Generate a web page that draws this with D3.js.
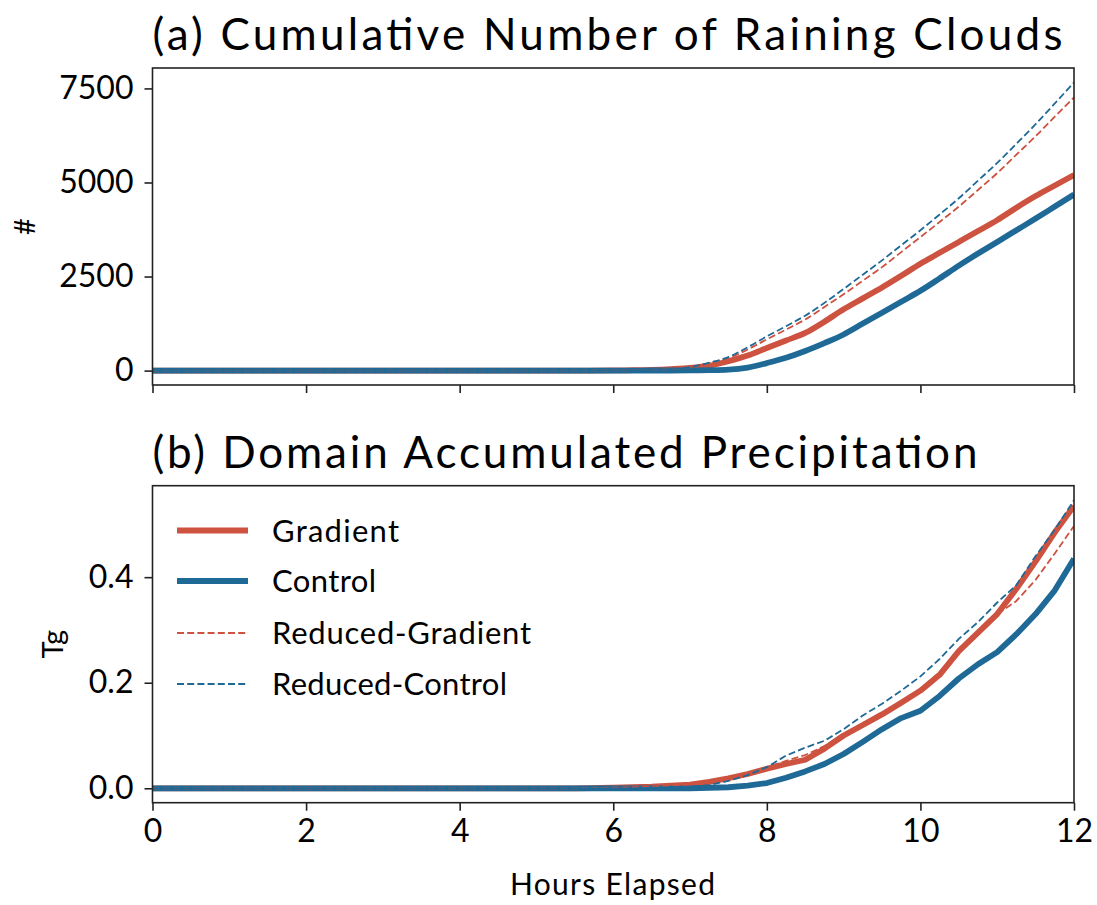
<!DOCTYPE html>
<html>
<head>
<meta charset="utf-8">
<script src="https://cdn.jsdelivr.net/npm/d3@7"></script>
<style>
  body { margin: 0; background: white; }
  svg text { font-family: Lato, "Noto Sans", sans-serif; fill: black; }
</style>
</head>
<body>
<svg class="chart" width="1097" height="905"></svg>
<script>
// DATA
var hours = [0, 1, 2, 3, 4, 5, 5.5, 6, 6.25, 6.5, 6.75, 7, 7.25, 7.5, 7.75, 8,
  8.25, 8.5, 8.75, 9, 9.25, 9.5, 9.75, 10, 10.25, 10.5, 10.75, 11, 11.25, 11.5, 11.75, 12];

// (a) cumulative number of raining clouds
var cloudsGradient = [0, 0, 0, 0, 0, 0, 0, 5, 10, 20, 40, 70, 130, 250, 400, 600,
  800, 1000, 1300, 1630, 1920, 2210, 2520, 2840, 3130, 3420, 3710, 4000, 4330, 4640, 4920, 5200];
var cloudsControl = [0, 0, 0, 0, 0, 0, 0, 0, 0, 2, 3, 5, 10, 25, 80, 200,
  340, 520, 730, 960, 1250, 1540, 1830, 2120, 2450, 2790, 3110, 3420, 3730, 4040, 4360, 4680];
var cloudsRedGradient = [0, 0, 0, 0, 0, 0, 0, 5, 10, 20, 40, 90, 200, 330, 560, 830,
  1090, 1360, 1690, 2030, 2390, 2750, 3150, 3550, 3950, 4360, 4800, 5250, 5740, 6230, 6750, 7260];
var cloudsRedControl = [0, 0, 0, 0, 0, 0, 0, 5, 10, 20, 40, 90, 210, 360, 620, 910,
  1180, 1460, 1800, 2170, 2550, 2930, 3330, 3730, 4150, 4580, 5050, 5520, 6030, 6550, 7100, 7660];

// (b) domain accumulated precipitation (Tg)
var precipGradient = [0, 0, 0, 0, 0, 0, 0, 0.001, 0.002, 0.003, 0.005, 0.007, 0.012, 0.019, 0.027, 0.037,
  0.046, 0.054, 0.075, 0.100, 0.120, 0.140, 0.162, 0.185, 0.215, 0.260, 0.295, 0.330, 0.378, 0.430, 0.485, 0.535];
var precipControl = [0, 0, 0, 0, 0, 0, 0, 0, 0, 0, 0, 0, 0.001, 0.002, 0.005, 0.010,
  0.020, 0.032, 0.046, 0.065, 0.088, 0.112, 0.133, 0.147, 0.175, 0.208, 0.235, 0.258, 0.292, 0.330, 0.375, 0.435];
var precipRedGradient = [0, 0, 0, 0, 0, 0, 0, 0.001, 0.002, 0.003, 0.005, 0.007, 0.011, 0.018, 0.028, 0.040,
  0.052, 0.063, 0.080, 0.103, 0.122, 0.142, 0.165, 0.188, 0.220, 0.264, 0.298, 0.330, 0.355, 0.395, 0.445, 0.497];
var precipRedControl = [0, 0, 0, 0, 0, 0, 0, 0, 0, 0.001, 0.002, 0.003, 0.006, 0.014, 0.025, 0.040,
  0.062, 0.077, 0.090, 0.112, 0.138, 0.160, 0.185, 0.212, 0.245, 0.283, 0.315, 0.352, 0.385, 0.440, 0.490, 0.546];

var seriesNames = ["Gradient", "Control", "Reduced-Gradient", "Reduced-Control"];
var xTicks = [0, 2, 4, 6, 8, 10, 12];
var cloudTicks = [0, 2500, 5000, 7500];
var precipTicks = [0, 0.2, 0.4];

// STYLE
var red = "#cd5340", blue = "#1f6997";
var styles = [
  {color: red, width: 5.8, dash: null},
  {color: blue, width: 5.8, dash: null},
  {color: red, width: 1.8, dash: "7,3.2"},
  {color: blue, width: 1.8, dash: "7,3.2"}
];
// text widths measured on the reference (the original font is wider than Lato)
var legendWidths = [127, 104, 259, 235];

var left = 152.5, right = 1074;
var panels = [
  {top: 68, bottom: 385, title: "(a) Cumulative Number of Raining Clouds", titleWidth: 910, ylabel: "#",
   series: [cloudsGradient, cloudsControl, cloudsRedGradient, cloudsRedControl],
   ticks: cloudTicks, fmt: d3.format("d"), xlabels: false, labelX: 35},
  {top: 485.7, bottom: 802.7, title: "(b) Domain Accumulated Precipitation", titleWidth: 825, ylabel: "Tg",
   series: [precipGradient, precipControl, precipRedGradient, precipRedControl],
   ticks: precipTicks, fmt: d3.format(".1f"), xlabels: true, labelX: 63}
];

var svg = d3.select(".chart");
var x = d3.scaleLinear().domain([0, 12]).range([left, right]);

panels.forEach(function(p, pi) {
  // autoscale like matplotlib: 5% margin around data
  var ymax = d3.max(p.series.map(function(s) { return d3.max(s); }));
  var ymin = 0;
  var pad = 0.05 * (ymax - ymin);
  var y = d3.scaleLinear().domain([ymin - pad, ymax + pad]).range([p.bottom, p.top]);

  svg.append("clipPath").attr("id", "clip" + pi)
    .append("rect")
    .attr("x", left).attr("y", p.top)
    .attr("width", right - left).attr("height", p.bottom - p.top);

  var body = svg.append("g").attr("clip-path", "url(#clip" + pi + ")");
  p.series.forEach(function(vals, i) {
    var line = d3.line()
      .x(function(d, j) { return x(hours[j]); })
      .y(function(d) { return y(d); })
      .curve(pi == 0 ? d3.curveMonotoneX : d3.curveLinear);
    body.append("path")
      .datum(vals)
      .attr("d", line)
      .attr("fill", "none")
      .attr("stroke", styles[i].color)
      .attr("stroke-width", styles[i].width)
      .attr("stroke-dasharray", styles[i].dash)
      .attr("stroke-linejoin", "round");
  });

  // axes
  var xAxis = d3.axisBottom(x).tickValues(xTicks).tickSize(8).tickSizeOuter(0).tickPadding(9);
  if (!p.xlabels) xAxis.tickFormat("");
  var yAxis = d3.axisLeft(y).tickValues(p.ticks).tickFormat(p.fmt).tickSize(8).tickSizeOuter(0).tickPadding(11);

  var xa = svg.append("g").attr("transform", "translate(0," + p.bottom + ")").call(xAxis);
  var ya = svg.append("g").attr("transform", "translate(" + left + ",0)").call(yAxis);
  [xa, ya].forEach(function(a) {
    a.select(".domain").remove();
    a.selectAll(".tick line").attr("stroke", "#222").attr("stroke-width", 1.6);
    a.selectAll(".tick text").attr("font-size", 32).attr("fill", "black");
  });

  // frame
  svg.append("rect")
    .attr("x", left).attr("y", p.top)
    .attr("width", right - left).attr("height", p.bottom - p.top)
    .attr("fill", "none").attr("stroke", "#222").attr("stroke-width", 1.6);

  svg.append("text")
    .attr("x", left).attr("y", p.top - 18)
    .attr("font-size", 44)
    .attr("textLength", p.titleWidth)
    .attr("lengthAdjust", "spacing")
    .text(p.title);

  svg.append("text")
    .attr("transform", "translate(" + p.labelX + "," + ((p.top + p.bottom) / 2) + ") rotate(-90)")
    .attr("text-anchor", "middle")
    .attr("font-size", 29)
    .text(p.ylabel);
});

svg.append("text")
  .attr("x", 510).attr("y", 895)
  .attr("font-size", 30)
  .attr("textLength", 205)
  .attr("lengthAdjust", "spacing")
  .text("Hours Elapsed");

// legend in panel (b)
var legendRows = [530.5, 581, 633, 684];
var legend = svg.append("g");
seriesNames.forEach(function(name, i) {
  legend.append("line")
    .attr("x1", 177).attr("x2", 248)
    .attr("y1", legendRows[i]).attr("y2", legendRows[i])
    .attr("stroke", styles[i].color)
    .attr("stroke-width", styles[i].width)
    .attr("stroke-dasharray", styles[i].dash);
  legend.append("text")
    .attr("x", 272).attr("y", legendRows[i] + 11)
    .attr("font-size", 31)
    .attr("textLength", legendWidths[i])
    .attr("lengthAdjust", "spacing")
    .text(name);
});
</script>
</body>
</html>
